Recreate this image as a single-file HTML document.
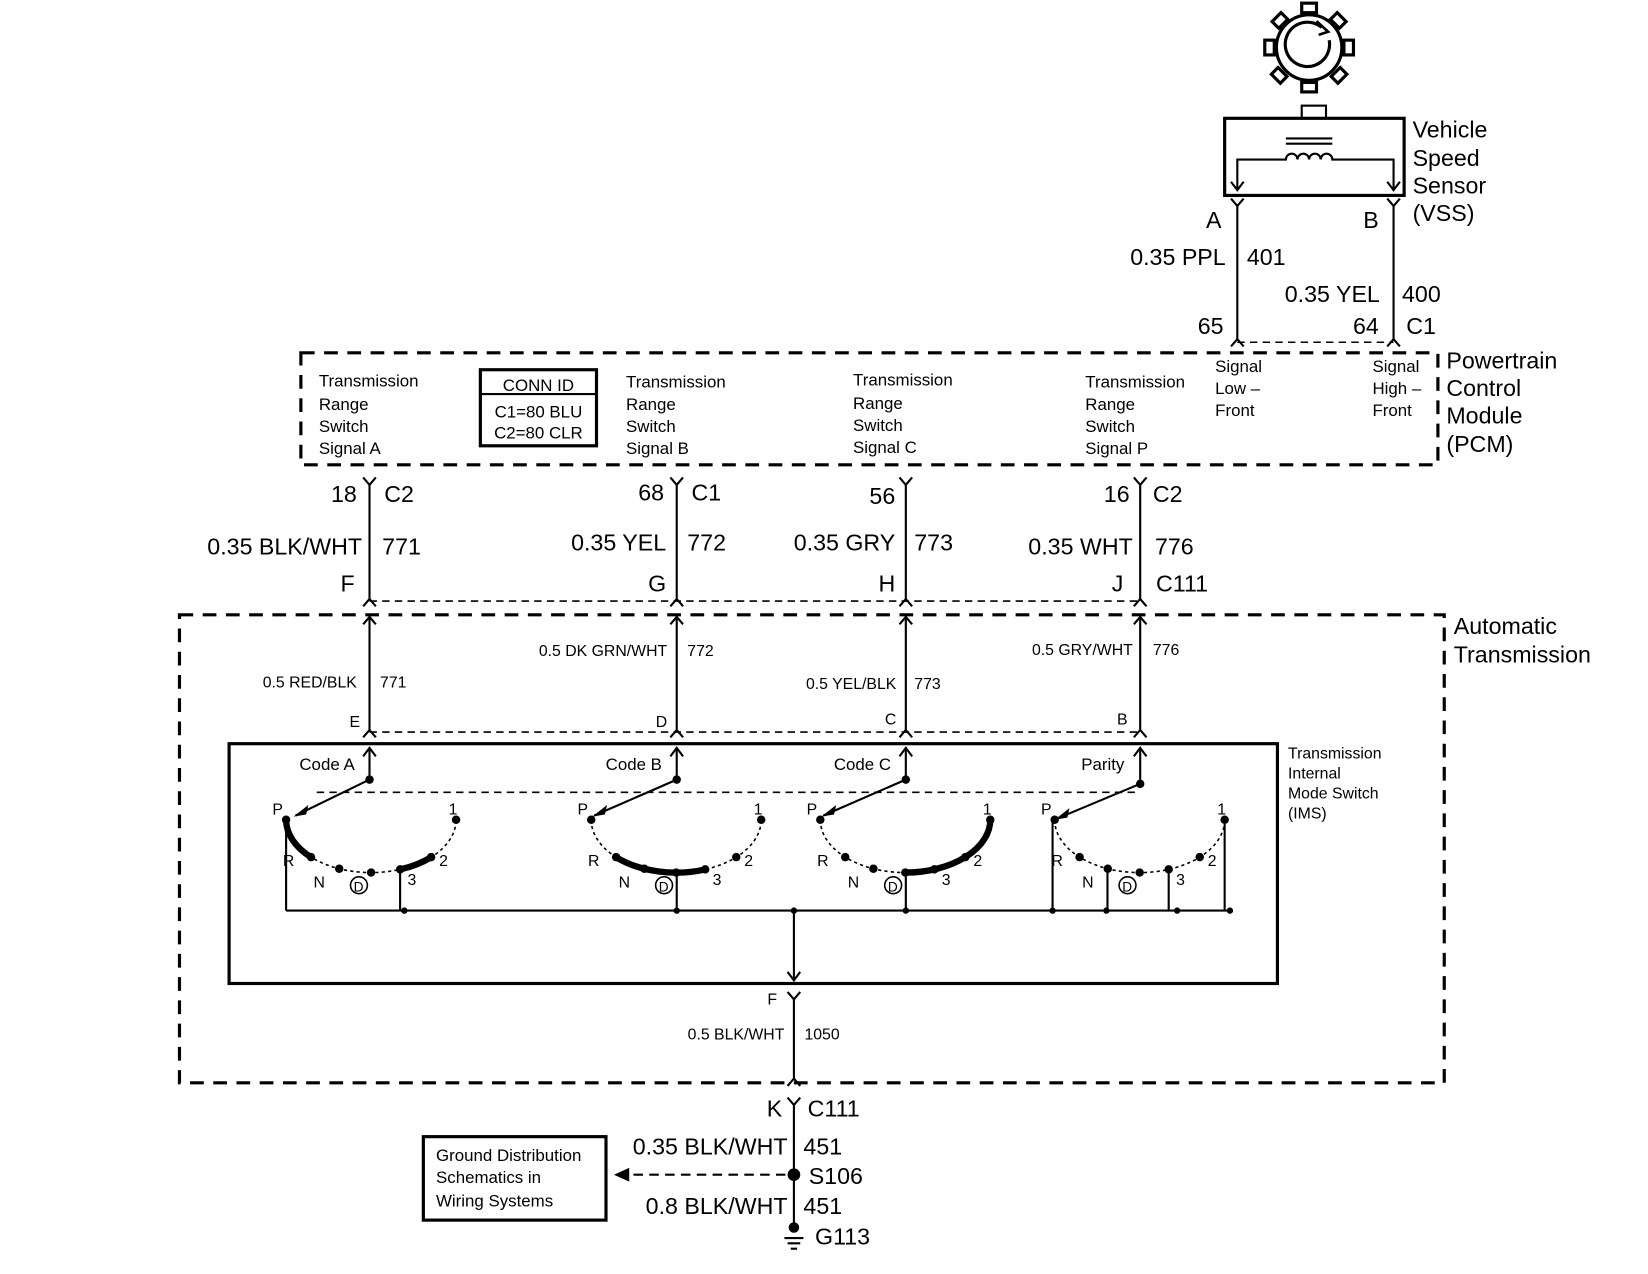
<!DOCTYPE html>
<html><head><meta charset="utf-8"><style>
html,body{margin:0;padding:0;background:#fff}
svg{display:block}
text{font-family:"Liberation Sans",Arial,sans-serif;fill:#000}
.L{font-size:22px}
.M{font-size:16px}
.S{font-size:15px}
.r{text-anchor:end}
</style></head><body>
<svg width="1648" height="1274" viewBox="0 0 1561 1206" preserveAspectRatio="none" xmlns="http://www.w3.org/2000/svg">
<g fill="none" stroke="#000" stroke-width="2">
<!-- gear -->
<circle cx="1240" cy="45" r="31" stroke-width="3"/>
<path d="M1252,26 A21,21 0 1 0 1259,38" stroke-width="3"/>
<path d="M1247,20 L1258,30 L1249,33" stroke-width="2.5"/>
<g stroke-width="3">
<rect x="1233" y="3" width="14" height="9"/>
<rect x="1233" y="78" width="14" height="9"/>
<rect x="1198" y="38" width="9" height="14"/>
<rect x="1273" y="38" width="9" height="14"/>
<rect x="1206" y="15" width="12" height="9" transform="rotate(-45 1212 19)"/>
<rect x="1262" y="15" width="12" height="9" transform="rotate(45 1268 19)"/>
<rect x="1206" y="67" width="12" height="9" transform="rotate(45 1212 71)"/>
<rect x="1262" y="67" width="12" height="9" transform="rotate(-45 1268 71)"/>
</g>
<rect x="1233" y="100" width="23" height="12"/>
<rect x="1160" y="112" width="170" height="73" stroke-width="3"/>
<path d="M1218,131 H1262 M1218,136 H1262"/>
<path d="M1172,180 V151 H1218 a5,5 0 0 1 11,0 a5,5 0 0 1 11,0 a5,5 0 0 1 11,0 a5,5 0 0 1 11,0 H1320 V180"/>
<path d="M1166,172 L1172,180 L1178,172 M1314,172 L1320,180 L1326,172"/>
<!-- VSS wires -->
<path d="M1172,195 V322 M1320,195 V322"/>
<path d="M1166,188 L1172,195 L1178,188 M1314,188 L1320,195 L1326,188"/>
<path d="M1166,328 L1172,321 L1178,328 M1314,328 L1320,321 L1326,328"/>
<path d="M1172,324 H1320" stroke-dasharray="7,5" stroke-width="1.5"/>
<!-- PCM box -->
<rect x="285" y="334" width="1077" height="106" stroke-dasharray="13,9" stroke-width="3"/>
<rect x="455" y="350" width="110" height="72" stroke-width="3"/>
<path d="M455,373 H565"/>
<!-- wires PCM to trans -->
<path d="M350,459 V568 M641,459 V568 M858,459 V568 M1080,459 V568"/>
<path d="M344,452 L350,459 L356,452 M635,452 L641,459 L647,452 M852,452 L858,459 L864,452 M1074,452 L1080,459 L1086,452"/>
<path d="M344,574 L350,567 L356,574 M635,574 L641,567 L647,574 M852,574 L858,567 L864,574 M1074,574 L1080,567 L1086,574"/>
<path d="M350,569 H1080" stroke-dasharray="7,5" stroke-width="1.5"/>
<!-- auto trans box -->
<rect x="170" y="582" width="1198" height="443" stroke-dasharray="13,9" stroke-width="3"/>
<path d="M350,584 V691 M641,584 V691 M858,584 V691 M1080,584 V691"/>
<path d="M344,591 L350,584 L356,591 M635,591 L641,584 L647,591 M852,591 L858,584 L864,591 M1074,591 L1080,584 L1086,591"/>
<path d="M344,698 L350,691 L356,698 M635,698 L641,691 L647,698 M852,698 L858,691 L864,698 M1074,698 L1080,691 L1086,698"/>
<path d="M350,693 H1080" stroke-dasharray="7,5" stroke-width="1.5"/>
<!-- IMS box -->
<rect x="217" y="704" width="993" height="227" stroke-width="3"/>
<path d="M350,738 V708 M641,738 V708 M858,738 V708 M1080,742 V708"/>
<path d="M344,716 L350,708 L356,716 M635,716 L641,708 L647,716 M852,716 L858,708 L864,716 M1074,716 L1080,708 L1086,716"/>
<path d="M300,750 H1080" stroke-dasharray="7,5" stroke-width="1.5"/>
<!-- baseline -->
<path d="M271,862 H1165"/>
<path d="M752,862 V928 M746,920 L752,928 L758,920"/>
<path d="M752,946 V1022 M746,939 L752,946 L758,939 M746,1028 L752,1021 L758,1028"/>
<path d="M752,1046 V1162 M746,1039 L752,1046 L758,1039"/>
<path d="M585,1112 H750" stroke-dasharray="9,6"/>
<path d="M595,1107 L584,1112 L595,1117 Z" fill="#000"/>
<path d="M743,1172 H761 M746,1177 H758 M749,1182 H755"/>
<rect x="401" y="1076" width="173" height="79" stroke-width="3"/>
</g>
<g fill="#000">
<circle cx="752" cy="1112" r="6"/><circle cx="752" cy="1162" r="5"/>
<circle cx="383" cy="862" r="3"/><circle cx="641" cy="862" r="3"/><circle cx="858" cy="862" r="3"/><circle cx="752" cy="862" r="3"/>
<circle cx="997" cy="862" r="3"/><circle cx="1048" cy="862" r="3"/><circle cx="1115" cy="862" r="3"/><circle cx="1165" cy="862" r="3"/>
</g>

<defs>
<g id="sw">
<path d="M271,776 A80.5,50 0 0 0 432,776" fill="none" stroke="#000" stroke-width="1.5" stroke-dasharray="3,3"/>
<g fill="#000">
<circle cx="271" cy="776" r="4"/><circle cx="294.6" cy="811.4" r="4"/><circle cx="321.3" cy="822.4" r="4"/>
<circle cx="351.5" cy="826" r="4"/><circle cx="379" cy="823" r="4"/><circle cx="408.4" cy="811.4" r="4"/><circle cx="432" cy="776" r="4"/>
</g>
<text x="258" y="771" class="S">P</text><text x="268" y="820" class="S">R</text><text x="297" y="840" class="S">N</text>
<circle cx="340" cy="838" r="8" fill="none" stroke="#000" stroke-width="1.5"/><text x="335" y="844" style="font-size:13px">D</text>
<text x="386" y="838" class="S">3</text><text x="416" y="820" class="S">2</text><text x="425" y="771" class="S">1</text>
</g>
</defs>
<use href="#sw"/><use href="#sw" transform="translate(289,0)"/><use href="#sw" transform="translate(506,0)"/><use href="#sw" transform="translate(728,0)"/>
<g fill="none" stroke="#000" stroke-width="6" stroke-linecap="round">
<path d="M271,776 A80.5,50 0 0 0 294.6,811.4"/>
<path d="M379,823 A80.5,50 0 0 0 408.4,811.4"/>
<path d="M583.6,811.4 A80.5,50 0 0 0 668,823"/>
<path d="M857.5,826 A80.5,50 0 0 0 938,776"/>
</g>
<g fill="none" stroke="#000" stroke-width="2">
<path d="M271,776 V862 M379,823 V862 M641,826 V862 M858,826 V862 M997,776 V862 M1049,822 V862 M1107,823 V862 M1160,776 V862"/>
<path d="M350,738 L280,772 M641,738 L563,772 M858,738 L780,772 M1080,742 L1001,775"/>
</g>
<g fill="#000">
<circle cx="350" cy="738" r="4"/><circle cx="641" cy="738" r="4"/><circle cx="858" cy="738" r="4"/><circle cx="1080" cy="742" r="4"/>
<path d="M278,773 L292,762 L290,771 Z"/><path d="M561,773 L575,762 L573,771 Z"/><path d="M778,773 L792,762 L790,771 Z"/><path d="M999,776 L1013,765 L1011,774 Z"/>
</g>

<text x="1338" y="130" class="L">Vehicle</text><text x="1338" y="157" class="L">Speed</text><text x="1338" y="183" class="L">Sensor</text><text x="1338" y="209" class="L">(VSS)</text>
<text x="1157" y="216" class="L r">A</text><text x="1306" y="216" class="L r">B</text>
<text x="1161" y="251" class="L r">0.35 PPL</text><text x="1181" y="251" class="L">401</text>
<text x="1307" y="286" class="L r">0.35 YEL</text><text x="1328" y="286" class="L">400</text>
<text x="1159" y="316" class="L r">65</text><text x="1306" y="316" class="L r">64</text><text x="1332" y="316" class="L">C1</text>
<text x="1370" y="349" class="L">Powertrain</text><text x="1370" y="375" class="L">Control</text><text x="1370" y="401" class="L">Module</text><text x="1370" y="428" class="L">(PCM)</text>
<text x="302" y="366" class="M">Transmission</text><text x="302" y="388" class="M">Range</text><text x="302" y="409" class="M">Switch</text><text x="302" y="430" class="M">Signal A</text>
<text x="510" y="370" class="M" text-anchor="middle">CONN ID</text><text x="510" y="395" class="M" text-anchor="middle">C1=80 BLU</text><text x="510" y="415" class="M" text-anchor="middle">C2=80 CLR</text>
<text x="593" y="367" class="M">Transmission</text><text x="593" y="388" class="M">Range</text><text x="593" y="409" class="M">Switch</text><text x="593" y="430" class="M">Signal B</text>
<text x="808" y="365" class="M">Transmission</text><text x="808" y="387" class="M">Range</text><text x="808" y="408" class="M">Switch</text><text x="808" y="429" class="M">Signal C</text>
<text x="1028" y="367" class="M">Transmission</text><text x="1028" y="388" class="M">Range</text><text x="1028" y="409" class="M">Switch</text><text x="1028" y="430" class="M">Signal P</text>
<text x="1151" y="352" class="M">Signal</text><text x="1151" y="373" class="M">Low –</text><text x="1151" y="394" class="M">Front</text>
<text x="1300" y="352" class="M">Signal</text><text x="1300" y="373" class="M">High –</text><text x="1300" y="394" class="M">Front</text>
<text x="338" y="475" class="L r">18</text><text x="364" y="475" class="L">C2</text>
<text x="629" y="474" class="L r">68</text><text x="655" y="474" class="L">C1</text>
<text x="848" y="477" class="L r">56</text>
<text x="1070" y="475" class="L r">16</text><text x="1092" y="475" class="L">C2</text>
<text x="343" y="525" class="L r">0.35 BLK/WHT</text><text x="362" y="525" class="L">771</text>
<text x="631" y="521" class="L r">0.35 YEL</text><text x="651" y="521" class="L">772</text>
<text x="848" y="521" class="L r">0.35 GRY</text><text x="866" y="521" class="L">773</text>
<text x="1073" y="525" class="L r">0.35 WHT</text><text x="1094" y="525" class="L">776</text>
<text x="336" y="560" class="L r">F</text><text x="631" y="560" class="L r">G</text><text x="848" y="560" class="L r">H</text><text x="1064" y="560" class="L r">J</text><text x="1095" y="560" class="L">C111</text>
<text x="1377" y="600" class="L">Automatic</text><text x="1377" y="627" class="L">Transmission</text>
<text x="338" y="651" class="S r">0.5 RED/BLK</text><text x="360" y="651" class="S">771</text>
<text x="632" y="621" class="S r">0.5 DK GRN/WHT</text><text x="651" y="621" class="S">772</text>
<text x="849" y="652" class="S r">0.5 YEL/BLK</text><text x="866" y="652" class="S">773</text>
<text x="1073" y="620" class="S r">0.5 GRY/WHT</text><text x="1092" y="620" class="S">776</text>
<text x="341" y="688" class="S r">E</text><text x="632" y="688" class="S r">D</text><text x="849" y="686" class="S r">C</text><text x="1068" y="686" class="S r">B</text>
<text x="1220" y="718" class="S">Transmission</text><text x="1220" y="737" class="S">Internal</text><text x="1220" y="756" class="S">Mode Switch</text><text x="1220" y="775" class="S">(IMS)</text>
<text x="336" y="729" class="M r">Code A</text><text x="627" y="729" class="M r">Code B</text><text x="844" y="729" class="M r">Code C</text><text x="1065" y="729" class="M r">Parity</text>
<text x="736" y="951" class="S r">F</text>
<text x="743" y="984" class="S r">0.5 BLK/WHT</text><text x="762" y="984" class="S">1050</text>
<text x="741" y="1057" class="L r">K</text><text x="765" y="1057" class="L">C111</text>
<text x="746" y="1093" class="L r">0.35 BLK/WHT</text><text x="761" y="1093" class="L">451</text>
<text x="766" y="1121" class="L">S106</text>
<text x="746" y="1149" class="L r">0.8 BLK/WHT</text><text x="761" y="1149" class="L">451</text>
<text x="772" y="1178" class="L">G113</text>
<text x="413" y="1099" class="M">Ground Distribution</text><text x="413" y="1120" class="M">Schematics in</text><text x="413" y="1142" class="M">Wiring Systems</text>
</svg>
</body></html>
